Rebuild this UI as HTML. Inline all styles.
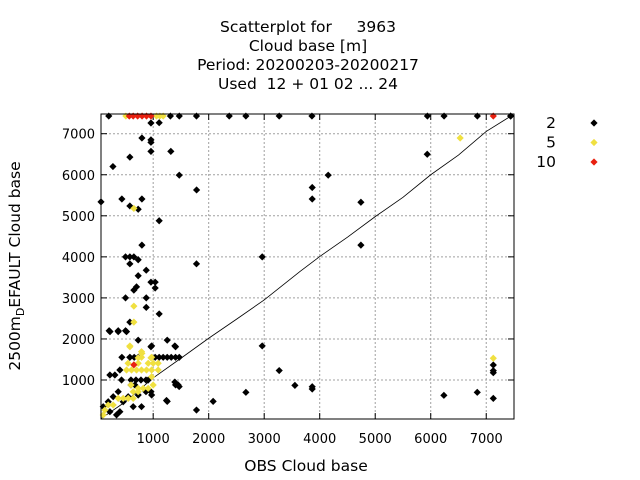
<!DOCTYPE html>
<html><head><meta charset="utf-8"><style>
body{margin:0;background:#fff;}
svg{display:block;font-family:"DejaVu Sans","Liberation Sans",sans-serif;}
</style></head><body>
<svg id="chart" width="640" height="480" viewBox="0 0 640 480">
<g font-size="15.5" text-anchor="middle" fill="#000">
<text x="308" y="32" xml:space="preserve">Scatterplot for     3963</text>
<text x="308" y="51">Cloud base [m]</text>
<text x="308" y="70">Period: 20200203-20200217</text>
<text x="308" y="89" xml:space="preserve">Used  12 + 01 02 ... 24</text>
</g>
<g id="grid"></g>
<g id="ticks"></g>
<g id="diag"></g>
<g id="pts"></g>
<rect x="101" y="114" width="413" height="305" fill="none" stroke="#000" stroke-width="1"/>
<text x="306" y="471" font-size="15.5" text-anchor="middle">OBS Cloud base</text>
<text transform="translate(20,266) rotate(-90)" font-size="15.5" text-anchor="middle">2500m<tspan font-size="11" dy="4">D</tspan><tspan dy="-4">EFAULT Cloud base</tspan></text>
<g id="legend" font-size="15.5"></g>
</svg>
<script>
const xTicks=[1000,2000,3000,4000,5000,6000,7000];
const yTicks=[1000,2000,3000,4000,5000,6000,7000];
const seriesNames=["2","5","10"];
const seriesColors=["#000000","#f0e040","#e82010"];
const blackX=[200,1310,1470,1780,2370,2670,3270,3860,5940,6240,6840,7440,960,1108,797,960,960,960,1318,580,275,1470,1782,60,436,797,580,730,1108,797,502,580,652,730,580,1780,875,730,960,1036,1036,652,700,502,875,875,1108,580,207,370,502,730,1253,960,1403,2964,2964,436,580,1036,1108,1180,1253,1325,1403,1470,3865,3865,4153,4742,4742,5937,3865,3865,6237,6838,7127,7127,7127,7127,7440,1253,1780,2080,2670,3270,3553,1403,1468,972,1390,580,658,730,400,220,310,430,600,690,780,870,670,910,870,960,1390,1450,370,280,190,460,550,640,790,100,220,400,340,1240,972,730,600,222,370,520];
const blackY=[7430,7430,7430,7430,7430,7430,7430,7430,7430,7430,7430,7430,7260,7268,6895,6850,6790,6570,6570,6430,6200,5990,5630,5340,5410,5410,5240,5160,4880,4285,4000,4000,4000,3930,3830,3830,3675,3540,3383,3383,3240,3190,3270,3000,3000,2770,2610,2410,2200,2200,2200,1970,1970,1810,1810,4000,1830,1553,1553,1553,1553,1553,1553,1553,1553,1553,5690,5410,5990,5330,4285,6500,837,780,627,700,1366,1227,1178,553,7430,480,268,480,700,1230,870,880,840,1830,1830,1553,1553,1553,1244,1122,1122,1000,1000,1000,1000,1000,878,1000,715,715,950,878,715,593,470,470,593,350,350,350,228,228,150,500,634,634,878,2178,2178,2178];
const yellowX=[508,1060,1120,1180,6530,7127,652,652,652,580,580,790,790,972,547,730,910,1000,1090,520,610,700,790,880,972,1090,972,600,1000,730,820,910,640,730,370,460,550,640,190,280,130,100,730,797,960];
const yellowY=[7430,7430,7430,7430,6895,1530,5180,2800,2410,1810,1830,1690,1553,1553,1407,1407,1407,1407,1407,1244,1244,1244,1244,1244,1244,1244,1080,878,878,797,797,797,715,715,553,553,553,553,390,390,268,146,1540,1650,1540];
const redX=[570,640,720,800,880,960,7127,652];
const redY=[7430,7430,7430,7430,7430,7430,7430,1370];
const diagX=[60,500,1000,1500,2000,2500,3000,3640,4000,4500,5000,5500,6000,6500,7000,7480];
const diagY=[60,470,1050,1530,2017,2480,2950,3640,4008,4480,4980,5450,6000,6480,7055,7460];
const NS="http://www.w3.org/2000/svg";
const X0=60,X1=7500,Y0=50,Y1=7480,L=101,R=514,T=114,B=419;
function sx(v){return L+(v-X0)*(R-L)/(X1-X0);}
function sy(v){return B-(v-Y0)*(B-T)/(Y1-Y0);}
function mk(tag,attrs,parent){const e=document.createElementNS(NS,tag);for(const k in attrs)e.setAttribute(k,attrs[k]);parent.appendChild(e);return e;}
const grid=document.getElementById('grid'),ticks=document.getElementById('ticks');
xTicks.forEach(v=>{const x=sx(v);
 const g=mk('line',{x1:x,x2:x,y1:T,y2:B,stroke:'#a0a0a0','stroke-dasharray':'2,2','stroke-width':1},grid);
 
 
 mk('line',{x1:x,x2:x,y1:B,y2:B-6,stroke:'#000'},ticks);
 mk('line',{x1:x,x2:x,y1:T,y2:T+6,stroke:'#000'},ticks);
 const t=mk('text',{x:x,y:443,'font-size':13,'text-anchor':'middle'},ticks);t.textContent=v;
 
 
});
yTicks.forEach(v=>{const y=sy(v);
 const g=mk('line',{x1:L,x2:R,y1:y,y2:y,stroke:'#a0a0a0','stroke-dasharray':'2,2','stroke-width':1},grid);
 
 
 mk('line',{x1:L,x2:L+6,y1:y,y2:y,stroke:'#000'},ticks);
 mk('line',{x1:R,x2:R-6,y1:y,y2:y,stroke:'#000'},ticks);
 const t=mk('text',{x:95,y:y+5,'font-size':13,'text-anchor':'end'},ticks);t.textContent=v;
 
 
});
const diag=document.getElementById('diag');
const pl=mk('polyline',{points:diagX.map((v,i)=>sx(v)+','+sy(diagY[i])).join(' '),fill:'none',stroke:'#000','stroke-width':0.8},diag);


const pts=document.getElementById('pts');
function diamond(x,y,c,parent,name){const r=3.6;
 const p=mk('polygon',{points:`${x},${y-r} ${x+r},${y} ${x},${y+r} ${x-r},${y}`,fill:c},parent);
 
 }
[[blackX,blackY,0],[yellowX,yellowY,1],[redX,redY,2]].forEach(([xs,ys,s])=>{
 xs.forEach((v,i)=>diamond(sx(v),sy(ys[i]),seriesColors[s],pts,'point-series-'+seriesNames[s]));
});
const leg=document.getElementById('legend');
seriesNames.forEach((n,i)=>{const y=123+i*19.5;
 const t=mk('text',{x:556,y:y+5,'text-anchor':'end'},leg);t.textContent=n;
 
 
 diamond(594,y,seriesColors[i],leg,'legend-marker');
});
</script>
</body></html>
